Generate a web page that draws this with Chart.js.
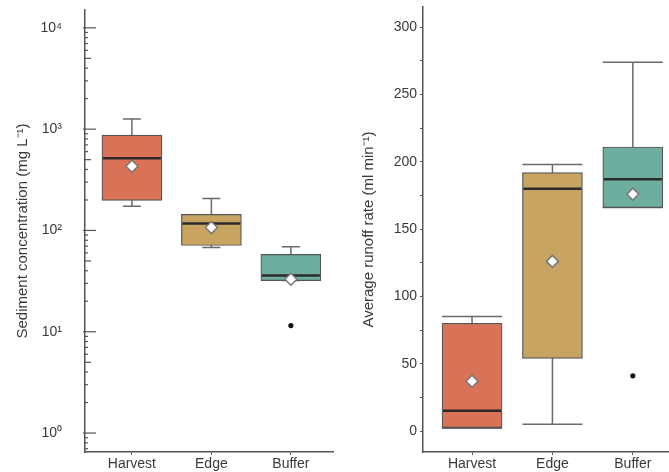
<!DOCTYPE html>
<html>
<head>
<meta charset="utf-8">
<script src="https://cdn.jsdelivr.net/npm/chart.js@4.4.1/dist/chart.umd.min.js"></script>
<style>
  html, body { margin: 0; padding: 0; background: #fff; }
  #wrap { position: relative; width: 669px; height: 472px; overflow: hidden; }
  #left { position: absolute; left: 0; top: 0; }
  #right { position: absolute; left: 340px; top: 0; }
</style>
</head>
<body>
<div id="wrap">
  <canvas id="left" width="340" height="472"></canvas>
  <canvas id="right" width="329" height="472"></canvas>
</div>
<script>
const categories = ['Harvest', 'Edge', 'Buffer'];
const boxColors = ['#D97257', '#C8A462', '#6DAE9F'];

// sediment concentration (mg L-1)
const sedLow = [173, 68, 32];
const sedQ1 = [198, 71, 32];
const sedMedian = [516, 117, 36];
const sedQ3 = [873, 144, 58];
const sedHigh = [1256, 207, 69];
const sedMean = [430, 107, 33];
const sedOutliers = [null, null, 11.5];
const sedTicks = [1, 10, 100, 1000, 10000];
const sedTickLabels = ['10⁰', '10¹', '10²', '10³', '10⁴'];

// average runoff rate (ml min-1)
const runLow = [2, 5, 166];
const runQ1 = [2.5, 54, 166];
const runMedian = [15, 180, 187];
const runQ3 = [80, 192, 211];
const runHigh = [85, 198, 274];
const runMean = [37, 126, 176];
const runOutliers = [null, null, 41];
const runTicks = [0, 25, 50, 75, 100, 125, 150, 175, 200, 225, 250, 275, 300];
const runTickLabels = ['0', '', '50', '', '100', '', '150', '', '200', '', '250', '', '300'];

const axisColor = '#555';
const textColor = '#3a3a3a';
const font = "'Liberation Sans', Arial, sans-serif";

// whiskers behind the boxes, medians on top of them
const boxPlugin = {
  id: 'boxWhiskers',
  beforeDatasetsDraw(chart, args, opts) {
    const meta = chart.getDatasetMeta(0);
    const y = chart.scales.y;
    const ctx = chart.ctx;
    ctx.save();
    ctx.strokeStyle = '#6a6a6a';
    ctx.lineWidth = 1.5;
    meta.data.forEach((bar, i) => {
      const half = (opts.cap || bar.width) / 2;
      const yLo = y.getPixelForValue(opts.low[i]);
      const yHi = y.getPixelForValue(opts.high[i]);
      ctx.beginPath();
      ctx.moveTo(bar.x, yLo);
      ctx.lineTo(bar.x, yHi);
      ctx.moveTo(bar.x - half, yLo);
      ctx.lineTo(bar.x + half, yLo);
      ctx.moveTo(bar.x - half, yHi);
      ctx.lineTo(bar.x + half, yHi);
      ctx.stroke();
    });
    ctx.restore();
  },
  afterDatasetDraw(chart, args, opts) {
    if (args.index !== 0) return;
    const meta = chart.getDatasetMeta(0);
    const y = chart.scales.y;
    const ctx = chart.ctx;
    ctx.save();
    ctx.strokeStyle = '#2a2a2a';
    ctx.lineWidth = 2.5;
    meta.data.forEach((bar, i) => {
      const py = y.getPixelForValue(opts.median[i]);
      ctx.beginPath();
      ctx.moveTo(bar.x - bar.width / 2 + 1, py);
      ctx.lineTo(bar.x + bar.width / 2 - 1, py);
      ctx.stroke();
    });
    ctx.restore();
  }
};

// inward tick marks on the log axis: long at decades, medium at 5, short otherwise
const logTickPlugin = {
  id: 'logTicks',
  afterDraw(chart) {
    const s = chart.scales.y;
    const ctx = chart.ctx;
    const x0 = s.right;
    ctx.save();
    ctx.strokeStyle = axisColor;
    ctx.lineWidth = 1.2;
    s.ticks.forEach(t => {
      const py = s.getPixelForValue(t.value);
      const sig = Math.round(t.value / Math.pow(10, Math.floor(Math.log10(t.value) + 1e-9)));
      const len = sig === 1 ? 11 : sig === 5 ? 6 : 3;
      ctx.beginPath();
      ctx.moveTo(sig === 1 ? x0 - 2 : x0, py);
      ctx.lineTo(x0 + len, py);
      ctx.stroke();
    });
    ctx.restore();
  }
};

function boxData(q1, q3) {
  return categories.map((c, i) => ({ x: i, y: [q1[i], q3[i]] }));
}
function pointData(vals) {
  return vals.map((v, i) => (v === null ? null : { x: i, y: v })).filter(p => p);
}

function fixWidth(w) {
  return s => { s.width = w; s.paddingTop = 0; s.paddingBottom = 0; };
}
function fixHeight(h) {
  return s => { s.height = h; s.paddingLeft = 0; s.paddingRight = 0; };
}

function makeChart(el, cfg) {
  return new Chart(el, {
    type: 'bar',
    data: {
      datasets: [{
        type: 'bar',
        data: boxData(cfg.q1, cfg.q3),
        backgroundColor: boxColors,
        borderColor: '#555',
        borderWidth: 1.2,
        borderSkipped: false,
        barThickness: 60,
        order: 3
      }, {
        type: 'scatter',
        data: pointData(cfg.mean),
        pointStyle: 'rectRot',
        radius: 6,
        backgroundColor: '#fff',
        borderColor: '#777',
        borderWidth: 1.5,
        order: 1
      }, {
        type: 'scatter',
        data: pointData(cfg.outliers),
        pointStyle: 'circle',
        radius: 2.6,
        backgroundColor: '#111',
        borderColor: '#111',
        borderWidth: 0,
        order: 2
      }]
    },
    options: {
      responsive: false,
      animation: false,
      events: [],
      layout: { padding: cfg.padding, autoPadding: false },
      plugins: {
        legend: { display: false },
        tooltip: { enabled: false },
        boxWhiskers: { low: cfg.low, high: cfg.high, median: cfg.median, cap: cfg.cap }
      },
      scales: {
        x: {
          type: 'linear',
          offset: false,
          min: cfg.xMin,
          max: cfg.xMax,
          afterBuildTicks: s => { s.ticks = categories.map((c, i) => ({ value: i })); },
          afterFit: fixHeight(20),
          grid: { display: true, offset: false, drawOnChartArea: false, tickLength: 3, tickColor: axisColor },
          border: { display: true, color: axisColor, width: 1.5 },
          ticks: {
            autoSkip: false,
            maxRotation: 0,
            padding: 1,
            color: textColor,
            font: { family: font, size: 14 },
            callback: v => categories[v]
          }
        },
        y: cfg.yScale
      }
    },
    plugins: cfg.plugins
  });
}

const sedMinorTicks = [];
[0.1, 1, 10, 100, 1000, 10000].forEach(d => {
  for (let m = 1; m <= 9; m++) {
    const v = Math.round(d * m * 100) / 100;
    if (v >= 0.65 && v <= 15000) sedMinorTicks.push(v);
  }
});

makeChart(document.getElementById('left'), {
  q1: sedQ1, q3: sedQ3, low: sedLow, high: sedHigh, median: sedMedian,
  mean: sedMean, outliers: sedOutliers, cap: 18,
  xMin: -0.59, xMax: 2.53,
  padding: { top: 10, right: 7, left: 0, bottom: 0 },
  plugins: [boxPlugin, logTickPlugin],
  yScale: {
    type: 'logarithmic',
    min: 0.65,
    max: 15000,
    afterBuildTicks: s => { s.ticks = sedMinorTicks.map(v => ({ value: v })); },
    afterFit: fixWidth(85),
    grid: { display: false },
    border: { display: true, color: axisColor, width: 1.5 },
    title: {
      display: true,
      text: 'Sediment concentration (mg L⁻¹)',
      color: textColor,
      font: { family: font, size: 15 },
      padding: { top: 14, bottom: 0 }
    },
    ticks: {
      autoSkip: false,
      padding: 15,
      color: textColor,
      font: { family: font, size: 14 },
      callback: v => {
        const k = sedTicks.indexOf(v);
        return k >= 0 ? sedTickLabels[k] : '';
      }
    }
  }
});

makeChart(document.getElementById('right'), {
  q1: runQ1, q3: runQ3, low: runLow, high: runHigh, median: runMedian,
  mean: runMean, outliers: runOutliers, cap: 0,
  xMin: -0.61, xMax: 2.45,
  padding: { top: 7, right: 0, left: 0, bottom: 0 },
  plugins: [boxPlugin],
  yScale: {
    type: 'linear',
    min: -15.6,
    max: 315,
    afterBuildTicks: s => { s.ticks = runTicks.map(v => ({ value: v })); },
    afterFit: fixWidth(83),
    grid: { display: true, drawOnChartArea: false, tickLength: 3, tickColor: axisColor },
    border: { display: true, color: axisColor, width: 1.5 },
    title: {
      display: true,
      text: 'Average runoff rate (ml min⁻¹)',
      color: textColor,
      font: { family: font, size: 15 },
      padding: { top: 20, bottom: 0 }
    },
    ticks: {
      autoSkip: false,
      padding: 3,
      color: textColor,
      font: { family: font, size: 14 },
      callback: v => {
        const k = runTicks.indexOf(v);
        return k >= 0 ? runTickLabels[k] : '';
      }
    }
  }
});
</script>
</body>
</html>
